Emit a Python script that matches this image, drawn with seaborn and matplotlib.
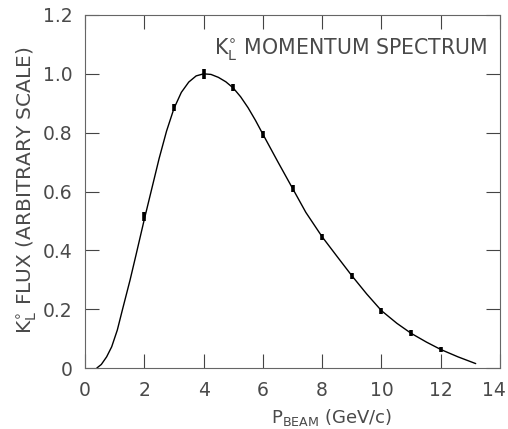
import matplotlib
matplotlib.use("Agg")
import matplotlib.pyplot as plt
import matplotlib.transforms as mtransforms
import seaborn as sns
import pandas as pd

# measured points
p_points = [2, 3, 4, 5, 6, 7, 8, 9, 10, 11, 12]
flux_points = [0.515, 0.885, 1.0, 0.952, 0.795, 0.611, 0.446, 0.314, 0.195, 0.118, 0.063]
flux_err = [0.014, 0.013, 0.016, 0.012, 0.012, 0.011, 0.011, 0.010, 0.010, 0.010, 0.010]

# fitted curve
p_curve = [0.40, 0.55, 0.73, 0.90, 1.09, 1.26, 1.52, 1.72, 2.00, 2.29, 2.50, 2.75, 3.00, 3.25,
           3.50, 3.75, 4.00, 4.25, 4.50, 4.75, 5.00, 5.25, 5.50, 5.75, 6.00, 6.50, 7.00, 7.45, 8.00,
           8.52, 9.00, 9.50, 10.00, 10.52, 11.00, 11.52, 12.00, 12.58, 13.18]
flux_curve = [0.000, 0.012, 0.038, 0.072, 0.129, 0.197, 0.299, 0.384, 0.505, 0.625, 0.712, 0.805, 0.882, 0.937,
              0.972, 0.993, 1.000, 0.998, 0.988, 0.973, 0.952, 0.922, 0.885, 0.842, 0.795, 0.702, 0.611, 0.529, 0.446,
              0.377, 0.314, 0.252, 0.195, 0.152, 0.118, 0.088, 0.063, 0.038, 0.015]

x_ticks = [0, 2, 4, 6, 8, 10, 12, 14]
y_ticks = [0, 0.2, 0.4, 0.6, 0.8, 1.0, 1.2]
y_ticklabels = ["0", "0.2", "0.4", "0.6", "0.8", "1.0", "1.2"]

sns.set_style("ticks")
plt.rcParams['font.family'] = ['DejaVu Sans']
plt.rcParams['mathtext.fontset'] = 'dejavusans'

text_color = "#4a4a4a"

fig = plt.figure(figsize=(5.08, 4.29), dpi=100)
ax = fig.add_axes([85/508, 61/429, 415/508, 353/429])

curve = pd.DataFrame({"p": p_curve, "flux": flux_curve})
sns.lineplot(data=curve, x="p", y="flux", ax=ax, color="black", linewidth=1.0, sort=True)
ax.errorbar(p_points, flux_points, yerr=flux_err, fmt="none", ecolor="black",
            elinewidth=2.6, capsize=0)

ax.set_xlim(0, 14)
ax.set_ylim(0, 1.2)
ax.set_xticks(x_ticks)
ax.set_xticklabels([str(v) for v in x_ticks])
ax.set_yticks(y_ticks)
ax.set_yticklabels(y_ticklabels)
ax.tick_params(direction="in", length=10, width=0.8, color="#444444",
               top=True, right=True, labelsize=13.5, labelcolor=text_color, pad=9)
for s in ax.spines.values():
    s.set_linewidth(0.8)
    s.set_color("#666666")
# last x label sits slightly inside the edge
last = ax.get_xticklabels()[-1]
last.set_transform(last.get_transform() + mtransforms.ScaledTranslation(-6/100, 0, fig.dpi_scale_trans))

ax.set_xlabel(r"P$_{\mathrm{BEAM}}$ (GeV/c)", fontsize=13, color=text_color)
ax.xaxis.set_label_coords((332 - 85) / 415, (368 - 417) / 353)
ax.xaxis.label.set_va("center")
ax.set_ylabel(r"K$^{\circ}_{\mathrm{L}}$ FLUX (ARBITRARY SCALE)", fontsize=14.5, color=text_color)
ax.yaxis.set_label_coords((27 - 85) / 415, (368 - 190) / 353)
ax.yaxis.label.set_va("center")
ax.text(487, 429 - 49, r"K$^{\circ}_{\mathrm{L}}$ MOMENTUM SPECTRUM", transform=None,
        ha="right", va="center", fontsize=14.8, color=text_color)

fig.savefig("out.png", dpi=100)
